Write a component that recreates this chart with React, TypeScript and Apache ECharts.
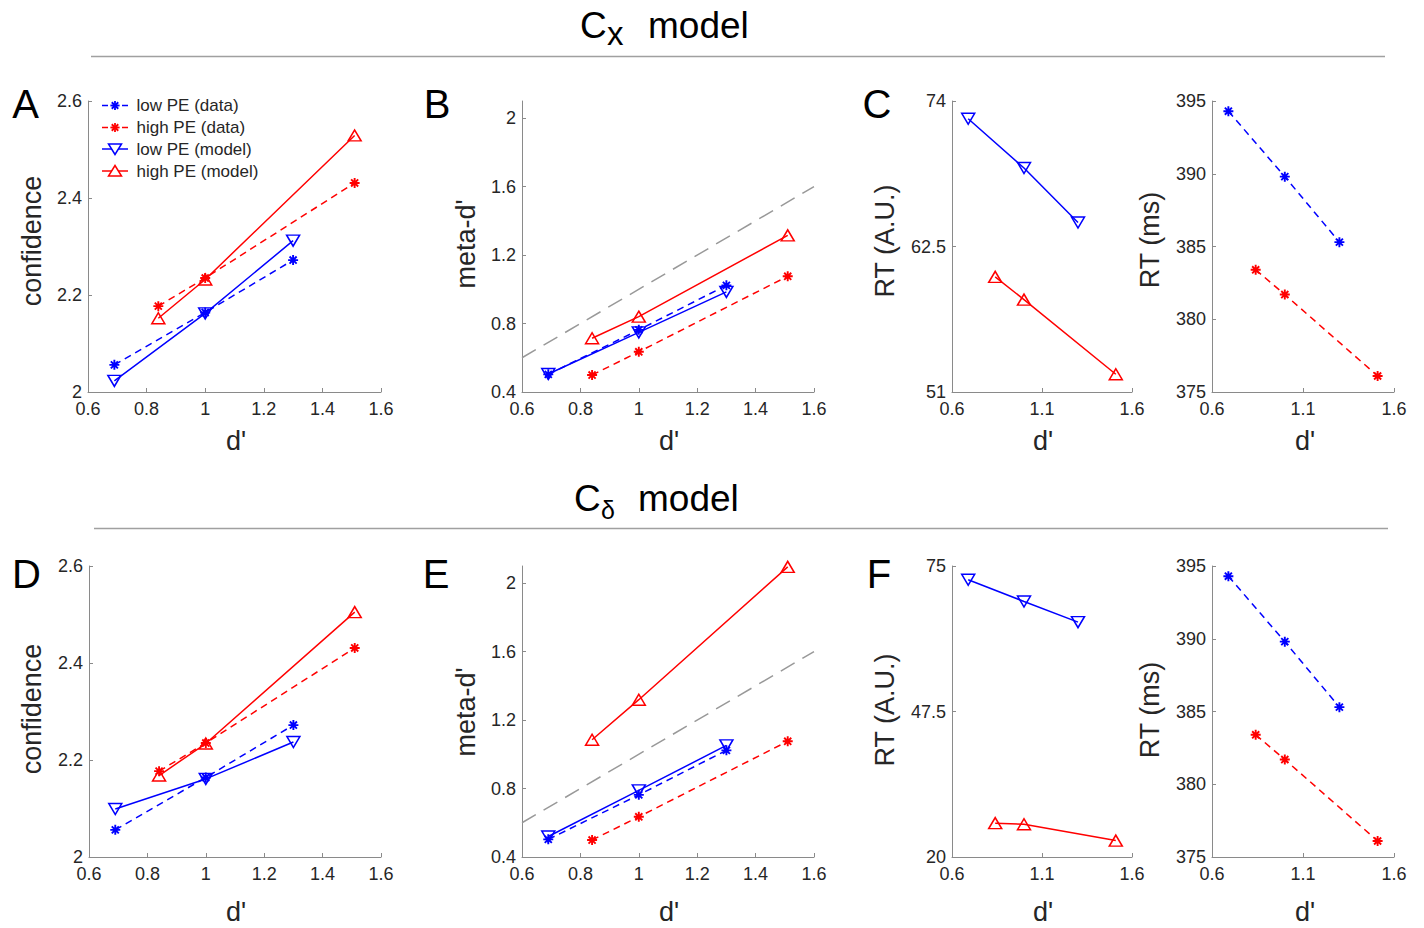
import React, { useEffect, useRef } from 'react';
import * as echarts from 'echarts';

// ---------- data ----------
const dLow = [0.69, 1.0, 1.3];
const dHigh = [0.84, 1.0, 1.51];
const identityLine = [0.6, 1.6];

// confidence (data, shared by both models)
const confLowData = [2.056, 2.164, 2.272];
const confHighData = [2.177, 2.235, 2.431];
// confidence, Cx model
const confLowModelCx = [2.023, 2.162, 2.312];
const confHighModelCx = [2.152, 2.232, 2.529];
// confidence, Cdelta model
const confLowModelCd = [2.099, 2.161, 2.237];
const confHighModelCd = [2.168, 2.234, 2.505];

// meta-d' (data)
const metaLowData = [0.503, 0.763, 1.023];
const metaHighData = [0.499, 0.635, 1.076];
// meta-d', Cx model
const metaLowModelCx = [0.505, 0.748, 0.985];
const metaHighModelCx = [0.714, 0.84, 1.315];
// meta-d', Cdelta model
const metaLowModelCd = [0.52, 0.789, 1.052];
const metaHighModelCd = [1.085, 1.319, 2.095];

// RT model (A.U.)
const rtLowModelCx = [72.6, 68.7, 64.4];
const rtHighModelCx = [60.1, 58.3, 52.4];
const rtLowModelCd = [72.4, 68.3, 64.4];
const rtHighModelCd = [26.4, 26.2, 23.1];
// RT data (ms)
const rtLowData = [394.3, 389.8, 385.3];
const rtHighData = [383.4, 381.7, 376.1];

// tick labels
const xTicksFine = [0.6, 0.8, 1, 1.2, 1.4, 1.6];
const xTicksCoarse = [0.6, 1.1, 1.6];
const yTicksConf = [2, 2.2, 2.4, 2.6];
const yTicksMeta = [0.4, 0.8, 1.2, 1.6, 2];
const yTicksRtCx = [51, 62.5, 74];
const yTicksRtCd = [20, 47.5, 75];
const yTicksRtMs = [375, 380, 385, 390, 395];

const legendLabels = ['low PE (data)', 'high PE (data)', 'low PE (model)', 'high PE (model)'];

// ---------- styles ----------
const FONT = '"Liberation Sans", Arial, Helvetica, sans-serif';
const BLUE = '#0000ff';
const RED = '#ff0000';
const AXIS = '#8a8a8a';
const TXT = '#262626';
const STAR = 'path://M0,-10L0,10M-10,0L10,0M-7.07,-7.07L7.07,7.07M-7.07,7.07L7.07,-7.07';

// grid layout: [left, top, width, height]
const GRIDS: number[][] = [
  [88, 101, 293, 291],
  [522, 101, 292, 291],
  [952, 101, 180, 291],
  [1212, 101, 182, 291],
  [89, 566, 292, 291],
  [522, 566, 292, 291],
  [952, 566, 180, 291],
  [1212, 566, 182, 291],
];

const pts = (xs: number[], ys: number[]) => xs.map((x, i) => [x, ys[i]]);

function dataSeries(g: number, xs: number[], ys: number[], color: string) {
  return {
    type: 'line',
    xAxisIndex: g,
    yAxisIndex: g,
    data: pts(xs, ys),
    symbol: STAR,
    symbolSize: 10,
    showSymbol: true,
    clip: false,
    z: 3,
    lineStyle: { color, width: 1.5, type: [7, 5] },
    itemStyle: { color, borderColor: color, borderWidth: 1.9 },
  };
}

function modelSeries(g: number, xs: number[], ys: number[], color: string, down: boolean) {
  return {
    type: 'line',
    xAxisIndex: g,
    yAxisIndex: g,
    data: pts(xs, ys),
    symbol: 'triangle',
    symbolRotate: down ? 180 : 0,
    symbolSize: [13, 11],
    showSymbol: true,
    clip: false,
    z: 4,
    lineStyle: { color, width: 1.5 },
    itemStyle: { color: 'rgba(255,255,255,0)', borderColor: color, borderWidth: 1.5 },
  };
}

function identitySeries(g: number) {
  return {
    type: 'line',
    xAxisIndex: g,
    yAxisIndex: g,
    data: identityLine.map((v) => [v, v]),
    symbol: 'none',
    z: 1,
    lineStyle: { color: '#999999', width: 1.5, type: [16, 9] },
  };
}

function makeAxis(g: number, ticks: number[], isX: boolean) {
  return {
    type: 'value',
    gridIndex: g,
    min: ticks[0],
    max: isX ? ticks[ticks.length - 1] : undefined,
    axisLine: { show: true, onZero: false, lineStyle: { color: AXIS, width: 1 } },
    axisTick: { show: true, inside: true, length: 4, customValues: ticks, lineStyle: { color: AXIS, width: 1 } },
    axisLabel: { customValues: ticks, color: TXT, fontSize: 18, fontFamily: FONT, margin: isX ? 8 : 6 },
    splitLine: { show: false },
  };
}

function txt(x: number, y: number, text: string, size: number, extra: any = {}) {
  return {
    type: 'text',
    x,
    y,
    rotation: extra.rot || 0,
    silent: true,
    style: {
      text,
      font: `${size}px ${FONT}`,
      fill: extra.fill || '#000000',
      align: extra.align || 'center',
      verticalAlign: 'middle',
    },
  };
}

export default function App() {
  const ref = useRef<HTMLDivElement>(null);

  useEffect(() => {
    if (!ref.current) return;
    const chart = echarts.init(ref.current, null, { renderer: 'svg' });

    const xTickSets = [xTicksFine, xTicksFine, xTicksCoarse, xTicksCoarse, xTicksFine, xTicksFine, xTicksCoarse, xTicksCoarse];
    const yTickSets = [yTicksConf, yTicksMeta, yTicksRtCx, yTicksRtMs, yTicksConf, yTicksMeta, yTicksRtCd, yTicksRtMs];
    const yMax = [2.6, 2.1, 74, 395, 2.6, 2.1, 75, 395];

    const xAxes = xTickSets.map((t, g) => makeAxis(g, t, true));
    const yAxes = yTickSets.map((t, g) => ({ ...makeAxis(g, t, false), max: yMax[g] }));

    const series: any[] = [
      // A
      dataSeries(0, dLow, confLowData, BLUE),
      dataSeries(0, dHigh, confHighData, RED),
      modelSeries(0, dLow, confLowModelCx, BLUE, true),
      modelSeries(0, dHigh, confHighModelCx, RED, false),
      // B
      identitySeries(1),
      dataSeries(1, dLow, metaLowData, BLUE),
      dataSeries(1, dHigh, metaHighData, RED),
      modelSeries(1, dLow, metaLowModelCx, BLUE, true),
      modelSeries(1, dHigh, metaHighModelCx, RED, false),
      // C
      modelSeries(2, dLow, rtLowModelCx, BLUE, true),
      modelSeries(2, dHigh, rtHighModelCx, RED, false),
      dataSeries(3, dLow, rtLowData, BLUE),
      dataSeries(3, dHigh, rtHighData, RED),
      // D
      dataSeries(4, dLow, confLowData, BLUE),
      dataSeries(4, dHigh, confHighData, RED),
      modelSeries(4, dLow, confLowModelCd, BLUE, true),
      modelSeries(4, dHigh, confHighModelCd, RED, false),
      // E
      identitySeries(5),
      dataSeries(5, dLow, metaLowData, BLUE),
      dataSeries(5, dHigh, metaHighData, RED),
      modelSeries(5, dLow, metaLowModelCd, BLUE, true),
      modelSeries(5, dHigh, metaHighModelCd, RED, false),
      // F
      modelSeries(6, dLow, rtLowModelCd, BLUE, true),
      modelSeries(6, dHigh, rtHighModelCd, RED, false),
      dataSeries(7, dLow, rtLowData, BLUE),
      dataSeries(7, dHigh, rtHighData, RED),
    ];

    // legend graphics
    const legendRowsY = [105.5, 127.5, 149, 171];
    const legendColors = [BLUE, RED, BLUE, RED];
    const legendGraphics: any[] = [];
    legendRowsY.forEach((y, i) => {
      const color = legendColors[i];
      const isData = i < 2;
      legendGraphics.push({
        type: 'line',
        silent: true,
        shape: { x1: 102, y1: y, x2: 128, y2: y },
        style: { stroke: color, lineWidth: 1.5, lineDash: isData ? [6, 4] : null },
      });
      if (isData) {
        const r = 4.6;
        const d = r * 0.707;
        [[0, -r, 0, r], [-r, 0, r, 0], [-d, -d, d, d], [-d, d, d, -d]].forEach((s) => {
          legendGraphics.push({
            type: 'line',
            silent: true,
            shape: { x1: 115 + s[0], y1: y + s[1], x2: 115 + s[2], y2: y + s[3] },
            style: { stroke: color, lineWidth: 1.8 },
          });
        });
      } else {
        const down = i === 2;
        const pts2 = down
          ? [[108.5, y - 5], [121.5, y - 5], [115, y + 5.5]]
          : [[108.5, y + 5], [121.5, y + 5], [115, y - 5.5]];
        legendGraphics.push({
          type: 'polygon',
          silent: true,
          shape: { points: pts2 },
          style: { fill: '#ffffff', stroke: color, lineWidth: 1.5 },
        });
      }
      legendGraphics.push(txt(136.5, y, legendLabels[i], 17, { align: 'left', fill: TXT }));
    });

    const rot = Math.PI / 2;
    const graphics: any[] = [
      // row titles
      txt(580, 25.7, 'C', 37, { align: 'left' }),
      txt(607, 33.5, 'x', 33, { align: 'left' }),
      txt(648, 25.7, 'model', 37, { align: 'left' }),
      { type: 'line', silent: true, shape: { x1: 91, y1: 56.5, x2: 1385, y2: 56.5 }, style: { stroke: '#a0a0a0', lineWidth: 1.5 } },
      txt(574, 498.9, 'C', 37, { align: 'left' }),
      txt(601, 510, 'δ', 25, { align: 'left' }),
      txt(638, 498.9, 'model', 37, { align: 'left' }),
      { type: 'line', silent: true, shape: { x1: 94, y1: 528.5, x2: 1388, y2: 528.5 }, style: { stroke: '#a0a0a0', lineWidth: 1.5 } },
      // panel letters
      txt(25.5, 104.1, 'A', 40),
      txt(437, 104.1, 'B', 40),
      txt(877, 104.1, 'C', 40),
      txt(26.5, 574.1, 'D', 40),
      txt(436, 574.1, 'E', 40),
      txt(879, 574.1, 'F', 40),
      // y-axis names
      txt(32, 241, 'confidence', 27, { rot, fill: TXT }),
      txt(466, 244, "meta-d'", 27, { rot, fill: TXT }),
      txt(885, 241, 'RT (A.U.)', 27, { rot, fill: TXT }),
      txt(1150, 240, 'RT (ms)', 27, { rot, fill: TXT }),
      txt(32, 709, 'confidence', 27, { rot, fill: TXT }),
      txt(466, 712, "meta-d'", 27, { rot, fill: TXT }),
      txt(885, 710, 'RT (A.U.)', 27, { rot, fill: TXT }),
      txt(1150, 710, 'RT (ms)', 27, { rot, fill: TXT }),
      // x-axis names
      txt(236, 441, "d'", 27, { fill: TXT }),
      txt(669, 441, "d'", 27, { fill: TXT }),
      txt(1043, 441, "d'", 27, { fill: TXT }),
      txt(1305, 441, "d'", 27, { fill: TXT }),
      txt(236, 912, "d'", 27, { fill: TXT }),
      txt(669, 912, "d'", 27, { fill: TXT }),
      txt(1043, 912, "d'", 27, { fill: TXT }),
      txt(1305, 912, "d'", 27, { fill: TXT }),
      ...legendGraphics,
    ];

    chart.setOption({
      animation: false,
      backgroundColor: '#ffffff',
      grid: GRIDS.map((g) => ({ left: g[0], top: g[1], width: g[2], height: g[3], containLabel: false })),
      xAxis: xAxes,
      yAxis: yAxes,
      series,
      graphic: { elements: graphics },
    });

    return () => chart.dispose();
  }, []);

  return (
    <div
      ref={ref}
      style={{ position: 'fixed', left: 0, top: 0, width: 1424, height: 928, background: '#ffffff' }}
    />
  );
}
